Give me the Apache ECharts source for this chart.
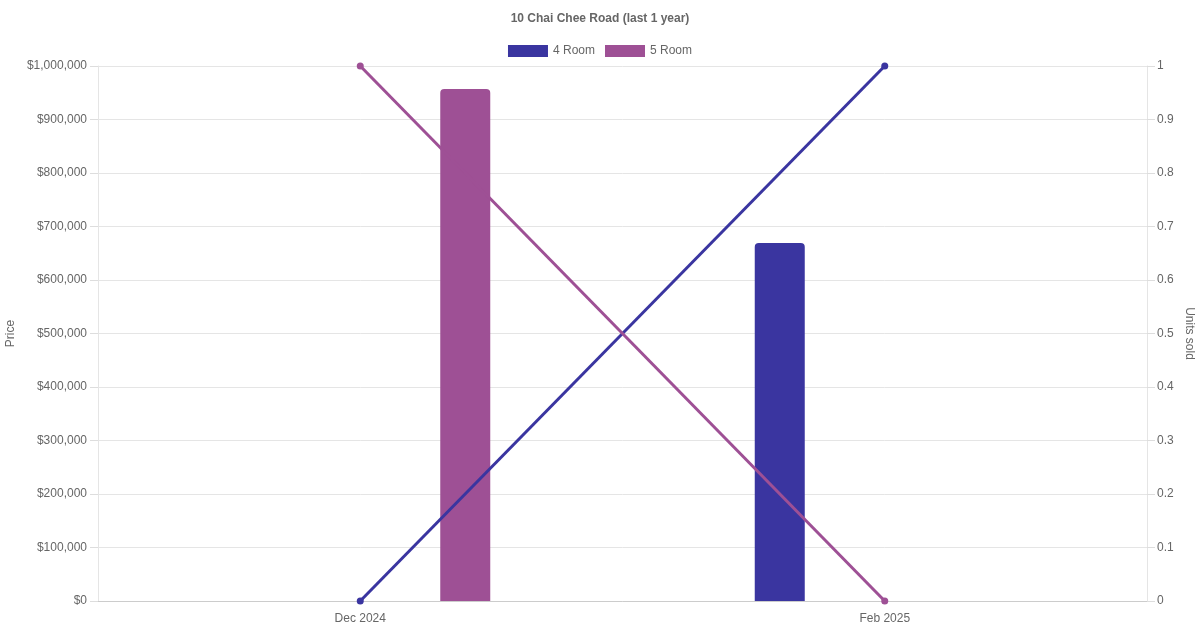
<!DOCTYPE html>
<html>
<head>
<meta charset="utf-8">
<script src="https://cdn.jsdelivr.net/npm/echarts@6/dist/echarts.min.js"></script>
<style>
html,body{margin:0;padding:0;background:#fff;}
#chart{width:1200px;height:630px;}
</style>
</head>
<body>
<div id="chart"></div>
<script>
const categories = ['Dec 2024', 'Feb 2025'];
const seriesNames = ['4 Room', '5 Room'];
const price4Room = ['-', 669000];
const price5Room = [957000, '-'];
const units4Room = [0, 1];
const units5Room = [1, 0];
const colors = ['#3a35a0', '#9e5095'];

const FONT = '"Liberation Sans", Arial, sans-serif';
const chart = echarts.init(document.getElementById('chart'), null, {renderer: 'canvas'});
chart.setOption({
  animation: false,
  backgroundColor: '#fff',
  textStyle: {fontFamily: FONT},
  title: {
    text: '10 Chai Chee Road (last 1 year)',
    left: 'center', top: 8,
    textStyle: {fontSize: 12, fontWeight: 'bold', color: '#666', fontFamily: FONT}
  },
  legend: {
    data: seriesNames,
    top: 40, left: 'center',
    icon: 'rect', itemWidth: 40, itemHeight: 12, itemGap: 10,
    textStyle: {fontSize: 12, color: '#666', fontFamily: FONT}
  },
  grid: {left: 98, right: 53, top: 66, bottom: 29, containLabel: false, outerBoundsMode: 'none'},
  xAxis: {
    type: 'category', data: categories, boundaryGap: true,
    axisLine: {lineStyle: {color: '#cccccc'}},
    axisTick: {show: false},
    splitLine: {show: false},
    axisLabel: {color: '#666', fontSize: 12, margin: 12, fontFamily: FONT}
  },
  yAxis: [
    {
      type: 'value', min: 0, max: 1000000, interval: 100000,
      name: 'Price', nameLocation: 'middle', nameRotate: 90, nameGap: 81, nameMoveOverlap: false,
      nameTextStyle: {color: '#666', fontSize: 12, fontFamily: FONT},
      axisLine: {show: true, lineStyle: {color: '#e5e5e5'}},
      axisTick: {show: true, length: 8, lineStyle: {color: '#dddddd'}},
      splitLine: {lineStyle: {color: '#e5e5e5'}},
      axisLabel: {color: '#666', fontSize: 12, margin: 11, fontFamily: FONT,
        formatter: v => '$' + v.toLocaleString('en-US')}
    },
    {
      type: 'value', min: 0, max: 1, interval: 0.1, position: 'right',
      name: 'Units sold', nameLocation: 'middle', nameRotate: -90, nameGap: 36, nameMoveOverlap: false,
      nameTextStyle: {color: '#666', fontSize: 12, fontFamily: FONT},
      axisLine: {show: true, lineStyle: {color: '#e5e5e5'}},
      axisTick: {show: true, length: 8, lineStyle: {color: '#dddddd'}},
      splitLine: {show: false},
      axisLabel: {color: '#666', fontSize: 12, margin: 10, fontFamily: FONT,
        formatter: v => String(Math.round(v * 10) / 10)}
    }
  ],
  series: [
    {name: seriesNames[0], type: 'bar', yAxisIndex: 0, data: price4Room,
     barWidth: 50, barGap: '320%', itemStyle: {color: colors[0], borderRadius: [4,4,0,0]}},
    {name: seriesNames[1], type: 'bar', yAxisIndex: 0, data: price5Room,
     barWidth: 50, barGap: '320%', itemStyle: {color: colors[1], borderRadius: [4,4,0,0]}},
    {name: seriesNames[0], type: 'line', yAxisIndex: 1, data: units4Room,
     symbol: 'circle', symbolSize: 7, z: 5,
     lineStyle: {color: colors[0], width: 3}, itemStyle: {color: colors[0]}},
    {name: seriesNames[1], type: 'line', yAxisIndex: 1, data: units5Room,
     symbol: 'circle', symbolSize: 7, z: 5,
     lineStyle: {color: colors[1], width: 3}, itemStyle: {color: colors[1]}}
  ]
});
</script>
</body>
</html>
